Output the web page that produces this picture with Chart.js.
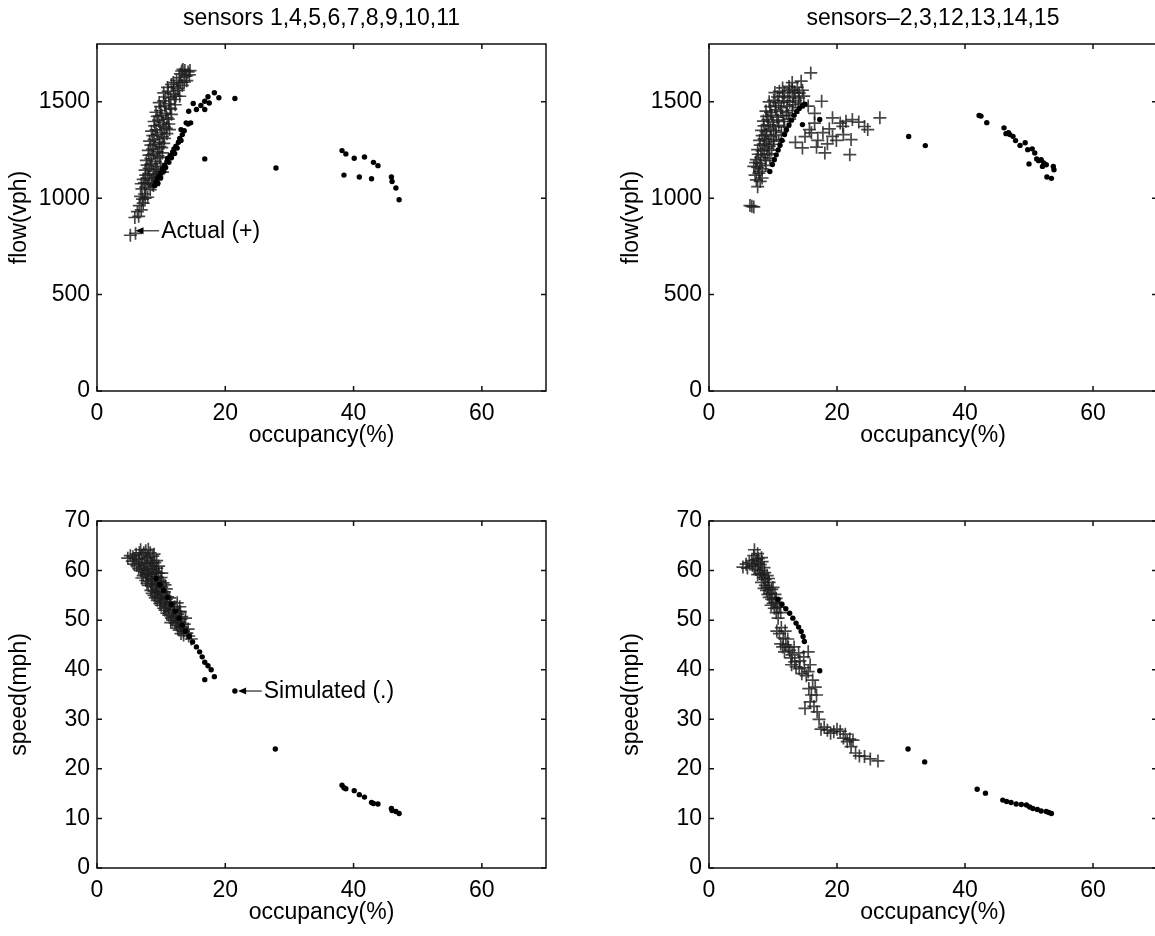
<!DOCTYPE html>
<html>
<head>
<meta charset="utf-8">
<title>flow and speed against occupancy</title>
<script src="https://cdn.jsdelivr.net/npm/chart.js@4.4.1/dist/chart.umd.min.js"></script>
<style>
html, body { margin: 0; padding: 0; background: #fff; overflow: hidden; }
#fig { position: relative; width: 1155px; height: 936px; overflow: hidden; background: #fff; }
#fig canvas { position: absolute; }
</style>
</head>
<body>
<div id="fig">
	<canvas id="flow-a" width="580" height="460" style="left:0;top:0"></canvas>
	<canvas id="flow-b" width="580" height="460" style="left:612px;top:0"></canvas>
	<canvas id="speed-a" width="580" height="476" style="left:0;top:460px"></canvas>
	<canvas id="speed-b" width="580" height="476" style="left:612px;top:460px"></canvas>
</div>
<script>

var groupTitles = ["sensors 1,4,5,6,7,8,9,10,11", "sensors\u20132,3,12,13,14,15"];

var occTicks = [0, 20, 40, 60];
var flowTicks = [0, 500, 1000, 1500];
var speedTicks = [0, 10, 20, 30, 40, 50, 60, 70];

// [occupancy %, flow vph] - sensors 1,4,5,...,11
var flowActualA = [
	[5.2,808],[6.0,818],[5.9,900],[6.5,906],[6.6,962],[7.1,995],[6.3,930],[6.9,940],[7.2,975],[7.5,1000],
	[6.8,1010],[7.4,1022],[7.9,1005],[7.0,1048],[7.6,1058],[8.3,1044],[8.8,1066],
	[6.9,1075],[7.4,1080],[8.1,1078],[8.6,1072],
	[7.2,1098],[7.9,1104],[8.5,1092],[9.2,1110],[7.6,1120],[8.2,1128],[8.9,1118],
	[7.5,1146],[8.1,1155],[8.8,1140],[9.6,1128],[10.2,1135],[9.4,1150],
	[7.8,1172],[8.5,1178],[9.2,1165],[9.9,1180],
	[7.7,1196],[8.4,1205],[9.1,1190],[9.8,1212],[8.1,1224],[8.8,1230],[9.5,1220],[10.2,1235],
	[8.0,1248],[8.7,1255],[9.4,1240],[10.1,1262],[8.4,1275],[9.1,1280],[9.8,1268],[10.4,1285],
	[8.2,1296],[8.9,1305],[9.7,1290],[10.5,1310],[8.7,1325],[9.4,1330],[10.2,1320],[10.9,1335],
	[8.5,1348],[9.2,1355],[10.0,1340],[10.8,1362],[11.3,1356],[9.0,1375],[9.8,1380],[10.5,1370],[11.2,1385],
	[8.9,1398],[9.6,1405],[10.3,1392],[11.1,1410],[9.4,1425],[10.1,1430],[10.9,1418],[11.6,1435],
	[9.2,1446],[9.9,1455],[10.7,1440],[11.5,1462],[9.9,1475],[10.6,1480],[11.4,1468],[12.2,1485],
	[9.7,1496],[10.4,1505],[11.2,1490],[12.1,1512],[10.7,1525],[11.5,1520],[12.3,1530],
	[10.4,1546],[11.1,1555],[11.9,1540],[12.7,1560],[12.9,1529],[11.0,1575],
	[11.6,1590],[12.0,1578],[12.6,1570],[12.4,1612],[13.0,1600],[13.6,1602],[11.9,1600],[12.8,1625],[13.3,1585],[14.0,1610],
	[13.0,1645],[13.4,1668],[13.9,1633],[14.2,1655],[14.4,1640],[13.7,1662],[13.2,1660],[14.5,1662]
];
var flowSimA = [
	[9.0,1065],[9.2,1085],[9.5,1078],[9.4,1102],[9.7,1115],[9.9,1104],[10.0,1132],[10.2,1150],[10.4,1140],
	[10.5,1170],[10.7,1160],[10.9,1190],[11.0,1206],[11.2,1186],[11.4,1222],[11.6,1210],[11.8,1240],
	[12.0,1256],[12.1,1232],[12.3,1270],[12.5,1260],[12.7,1290],[12.9,1310],[13.1,1300],[13.1,1356],
	[13.3,1330],[13.6,1350],[13.9,1391],[14.2,1385],[14.6,1391],[14.3,1451],
	[15.0,1491],[15.5,1460],[16.2,1481],[16.8,1503],[16.8,1460],[17.5,1494],[17.3,1526],
	[18.3,1547],[19.0,1521],[21.5,1517],
	[16.8,1204],[27.9,1157],
	[38.2,1247],[38.8,1230],[40.1,1207],[41.7,1214],[43.1,1186],[43.8,1169],
	[38.5,1120],[40.9,1110],[42.8,1101],[45.9,1110],[46.0,1087],[46.6,1053],[47.1,992]
];

// [occupancy %, flow vph] - sensors 2,3,12,...,15
var flowActualB = [
	[6.4,962],[7.0,955],[6.7,958],[8.0,1087],[7.6,1060],[8.3,1105],[7.4,1095],[7.2,1120],[7.8,1130],[7.9,1140],
	[7.0,1165],[7.6,1160],[8.3,1152],[8.9,1170],[7.3,1185],[8.0,1180],
	[7.4,1200],[8.1,1212],[8.8,1195],[9.5,1208],[8.6,1225],[7.7,1228],[9.2,1230],
	[7.6,1252],[8.3,1246],[9.0,1260],[9.8,1250],[8.0,1275],[8.7,1282],[9.4,1270],[10.1,1280],
	[7.9,1300],[8.6,1308],[9.3,1294],[10.1,1305],[10.9,1296],[8.3,1325],[9.0,1330],[9.7,1320],[10.5,1328],
	[8.2,1352],[8.9,1345],[9.6,1358],[10.4,1350],[11.3,1342],[8.6,1375],[9.3,1380],[10.1,1370],[10.9,1378],[11.8,1370],
	[8.5,1400],[9.2,1408],[10.0,1395],[10.8,1405],[11.7,1398],[12.6,1410],
	[9.0,1425],[9.8,1430],[10.6,1420],[11.5,1428],[12.4,1430],
	[8.9,1452],[9.6,1445],[10.4,1458],[11.2,1450],[12.1,1444],[13.0,1455],
	[9.6,1475],[10.4,1480],[11.3,1470],[12.2,1478],[13.1,1485],[14.0,1470],
	[9.4,1500],[10.1,1508],[10.9,1495],[11.7,1505],[12.6,1498],[13.5,1506],[14.3,1494],
	[10.7,1525],[11.5,1530],[12.3,1522],[13.2,1528],[14.0,1520],
	[10.3,1548],[11.0,1555],[11.8,1546],[12.6,1558],[13.4,1550],[14.1,1545],
	[11.5,1572],[13.0,1565],[14.6,1560],[13.0,1600],
	[12.5,1580],[13.8,1575],[14.4,1607],[15.9,1650],
	[14.8,1530],[15.5,1478],[16.5,1440],[17.6,1503],[15.0,1320],[13.5,1290],
	[14.6,1261],[15.7,1356],[16.0,1339],[17.0,1300],[16.5,1390],[18.1,1235],[18.5,1282],[16.8,1265],
	[17.8,1340],[18.8,1360],[19.9,1300],[21.0,1330],[23.4,1395],
	[19.3,1321],[19.3,1417],[20.5,1390],[20.9,1373],[21.4,1399],[22.4,1408],[22.2,1304],
	[22.0,1226],[24.3,1372],[24.8,1356],[26.7,1417]
];
var flowSimB = [
	[9.5,1139],[9.9,1175],[10.2,1200],[10.5,1225],[10.8,1250],[11.1,1275],[11.4,1300],
	[11.8,1330],[12.1,1355],[12.5,1380],[12.9,1405],[13.3,1430],[13.7,1450],[14.1,1466],
	[14.6,1480],[15.0,1488],[14.6,1382],[17.3,1408],
	[31.2,1320],[33.8,1273],
	[42.2,1429],[42.5,1426],[43.4,1392],[46.1,1365],[46.4,1335],[47.0,1330],[47.5,1321],[47.9,1299],
	[48.6,1274],[49.4,1288],[49.8,1252],[50.5,1256],[50.9,1235],[50.0,1178],[51.2,1204],
	[51.9,1200],[52.3,1183],[52.7,1174],[52.1,1165],[53.8,1165],[53.9,1148],[52.8,1110],[53.5,1103],
	[46.8,1340],[51.5,1195]
];

// [occupancy %, speed mph]
var speedActualA = [
	[4.8,62.5],[5.6,62.8],[6.8,64.2],[7.6,64.0],[8.3,63.6],[5.9,62.4],[6.6,63.6],[7.3,63.6],[8.0,64.3],[8.9,63.3],
	[5.2,63.0],[6.1,63.3],[7.0,63.1],[7.9,62.7],[8.7,62.9],
	[5.5,61.9],[6.5,62.2],[7.4,61.7],[8.3,62.0],[9.0,61.6],[5.8,61.3],[6.7,61.5],[7.7,62.4],[8.5,61.5],[9.3,62.0],
	[6.2,61.0],[7.0,60.7],[7.8,61.2],[8.6,60.9],[9.3,60.5],[6.5,60.4],[7.3,60.3],[8.0,59.4],[8.8,60.3],[9.6,60.9],
	[6.8,60.0],[7.5,59.7],[8.2,60.2],[9.0,59.9],[9.6,59.5],
	[7.2,59.0],[7.9,58.8],[8.6,59.2],[9.3,58.7],[10.0,58.6],[7.0,58.5],[7.7,59.3],[8.5,58.4],[9.2,59.6],[10.1,59.5],
	[7.6,58.0],[8.3,57.8],[9.0,58.2],[9.7,57.7],[10.3,57.5],[7.8,57.4],[8.5,57.3],[9.3,56.5],[9.9,57.9],[10.6,57.1],
	[8.0,57.0],[8.7,56.8],[9.4,57.2],[10.1,56.7],
	[8.4,56.0],[9.1,55.8],[9.8,56.2],[10.5,55.7],[8.6,55.4],[9.4,55.5],[10.1,55.6],[10.8,56.3],
	[8.9,55.0],[9.6,54.8],[10.3,55.2],[11.0,54.7],[9.1,54.5],[9.9,54.4],[10.6,53.5],[11.3,54.5],
	[9.4,54.0],[10.1,53.8],[10.8,54.2],[11.5,53.7],[9.8,53.4],[10.4,52.4],[11.1,52.5],[11.8,52.0],[12.5,53.5],
	[10.0,53.0],[10.7,52.8],[11.4,53.2],[12.1,52.7],[12.9,52.7],
	[10.6,52.0],[11.3,51.8],[12.0,52.2],[12.8,51.7],[10.9,51.4],[11.6,50.4],[12.3,50.6],[13.0,51.7],
	[11.2,51.0],[11.9,50.8],[12.6,51.2],[13.2,50.7],[11.5,49.5],[12.2,49.4],[12.9,49.6],[13.8,50.4],
	[11.8,50.0],[12.5,49.8],[13.1,50.2],[12.4,49.0],[13.0,48.8],[13.6,49.2],
	[12.8,48.0],[13.5,47.8],[14.2,48.2],[12.6,48.4],[13.3,48.5],[14.0,47.4],[13.1,47.3],
	[13.5,47.0],[14.3,46.8],[14.7,46.2]
];
var speedSimA = [
	[9.2,58.4],[9.8,57.2],[10.4,56.0],[11.0,54.6],[11.6,53.2],[12.2,51.8],[12.8,50.4],[13.3,49.0],
	[13.8,47.8],[14.4,46.7],[14.9,45.6],[15.5,44.6],[16.0,43.6],[16.4,42.6],[16.8,41.5],[17.3,40.8],
	[17.8,40.0],[16.8,38.0],[18.3,38.6],[21.5,35.7],[27.8,24.0],
	[38.2,16.7],[38.5,16.2],[38.8,16.0],[40.1,15.6],[40.9,14.8],[41.7,14.3],[42.8,13.2],[43.1,13.0],
	[43.8,12.9],[45.9,12.0],[46.0,11.6],[46.6,11.4],[47.1,11.0]
];

var speedActualB = [
	[5.3,60.7],[6.0,60.5],[6.7,62.0],[7.1,64.2],[7.6,63.4],[8.2,62.6],[6.8,61.0],[7.4,62.2],
	[5.8,61.3],[6.3,61.6],[7.0,63.0],[7.7,62.4],[7.1,60.8],[7.7,61.4],[8.3,61.8],
	[8.0,61.2],[8.6,60.6],[7.3,60.2],[7.9,59.4],[8.5,58.6],[9.1,59.0],[8.2,57.6],[8.8,57.0],
	[8.1,60.0],[8.7,59.6],[7.6,59.2],[8.3,59.2],[8.8,58.2],[9.3,58.4],[8.6,56.4],[9.2,56.6],[9.8,56.2],
	[9.4,57.6],[9.0,56.0],[9.6,55.4],[10.0,56.6],[9.4,54.6],[10.0,53.4],[10.5,54.4],[10.2,52.4],
	[9.2,55.2],[9.8,54.2],[10.3,55.2],[9.7,53.0],[10.4,53.6],[10.7,52.6],[11.2,51.5],
	[10.5,51.5],[11.0,52.6],[10.8,50.4],
	[10.6,47.8],[11.0,47.3],[11.6,46.4],[11.2,45.2],[12.0,45.0],[12.6,43.9],[11.8,43.6],[12.8,42.4],
	[11.3,48.5],[11.9,47.8],[11.5,44.6],[12.3,46.2],[12.4,44.5],[13.0,43.0],[13.4,41.6],[12.9,41.0],
	[13.3,44.6],[13.6,40.6],[14.2,41.8],[15.5,43.6],[14.8,42.6],[14.5,39.2],[15.2,38.8],[16.2,37.9],
	[14.0,43.4],[14.1,40.2],[14.9,40.4],[15.8,41.0],[15.5,39.6],[16.6,36.5],
	[15.6,36.2],[16.0,34.9],[16.8,34.9],[15.0,32.2],[16.4,32.6],[17.2,30.0],[17.5,28.0],[18.5,27.8],
	[15.8,33.5],[16.9,31.5],[18.0,28.4],[19.0,27.2],[20.0,28.0],[21.0,26.2],
	[19.5,27.5],[20.5,27.6],[21.3,27.0],[21.6,25.5],[22.0,26.0],[22.2,24.5],[22.5,25.8],[24.3,22.5],
	[22.9,23.2],[23.5,22.6],[25.2,22.0],[26.4,21.6]
];
var speedSimB = [
	[10.8,54.2],[11.4,53.2],[12.0,52.3],[12.6,51.4],[13.1,50.4],[13.6,49.4],[14.0,48.6],[14.4,47.7],
	[14.7,46.7],[14.9,45.7],[17.3,39.8],[31.1,24.0],[33.7,21.4],[41.9,15.9],[43.2,15.1],
	[45.9,13.7],[46.5,13.4],[47.2,13.2],[48.0,12.9],[48.8,12.8],[49.6,12.7],[50.1,12.3],[50.6,12.0],
	[51.3,11.8],[51.9,11.5],[52.7,11.4],[53.1,11.2],[53.5,11.0]
];

Chart.defaults.font.family = "'Liberation Sans', Arial, Helvetica, sans-serif";
Chart.defaults.color = '#000';

var FONT = { size: 23 };

function toPoints(pairs) {
	return pairs.map(function(p) { return { x: p[0], y: p[1] }; });
}

// box with inward ticks on all four sides, plus the panel title and text note
var boxFrame = {
	id: 'boxFrame',
	afterDraw: function(chart, args, opts) {
		var ctx = chart.ctx, a = chart.chartArea;
		var xs = chart.scales.x, ys = chart.scales.y;
		ctx.save();
		ctx.strokeStyle = '#111';
		ctx.lineWidth = 1.5;
		ctx.strokeRect(a.left, a.top, a.right - a.left, a.bottom - a.top);
		ctx.beginPath();
		xs.ticks.forEach(function(t) {
			var px = xs.getPixelForValue(t.value);
			ctx.moveTo(px, a.bottom); ctx.lineTo(px, a.bottom - 5);
			ctx.moveTo(px, a.top); ctx.lineTo(px, a.top + 5);
		});
		ys.ticks.forEach(function(t) {
			var py = ys.getPixelForValue(t.value);
			ctx.moveTo(a.left, py); ctx.lineTo(a.left + 5, py);
			ctx.moveTo(a.right, py); ctx.lineTo(a.right - 5, py);
		});
		ctx.stroke();

		ctx.fillStyle = '#000';
		ctx.font = "23px 'Liberation Sans', Arial, sans-serif";
		if (opts.title) {
			ctx.textAlign = 'center';
			ctx.textBaseline = 'middle';
			ctx.fillText(opts.title, (a.left + a.right) / 2, a.top - 25);
		}
		if (opts.note) {
			var n = opts.note;
			var x0 = xs.getPixelForValue(n.x), y0 = ys.getPixelForValue(n.y);
			var x1 = xs.getPixelForValue(n.textX);
			ctx.lineWidth = 1.1;
			ctx.beginPath();
			ctx.moveTo(x0 + 2, y0); ctx.lineTo(x1 - 2, y0);
			ctx.stroke();
			ctx.beginPath();
			ctx.moveTo(x0, y0);
			ctx.lineTo(x0 + 8, y0 - 3.5);
			ctx.lineTo(x0 + 8, y0 + 3.5);
			ctx.closePath();
			ctx.fill();
			ctx.textAlign = 'left';
			ctx.textBaseline = 'middle';
			ctx.fillText(n.text, x1, y0 + 1);
		}
		ctx.restore();
	}
};

function plainNumber(value) {
	return String(value);
}

function makePanel(id, cfg) {
	var ctx = document.getElementById(id);
	return new Chart(ctx, {
		type: 'scatter',
		data: {
			datasets: [
				{
					label: 'Simulated (.)',
					data: toPoints(cfg.sim),
					pointStyle: 'circle',
					pointRadius: 2.7,
					pointBorderWidth: 0,
					backgroundColor: '#000',
					borderColor: '#000'
				},
				{
					label: 'Actual (+)',
					data: toPoints(cfg.actual),
					pointStyle: 'cross',
					pointRadius: 6.5,
					pointBorderWidth: 1.7,
					backgroundColor: 'rgba(30,30,30,0.82)',
					borderColor: 'rgba(30,30,30,0.82)'
				}
			]
		},
		options: {
			responsive: false,
			animation: false,
			events: [],
			layout: { padding: { top: cfg.top, right: cfg.right, left: 0, bottom: 0 } },
			scales: {
				x: {
					type: 'linear',
					min: 0,
					max: 70,
					grid: { display: false, drawTicks: false },
					border: { display: false },
					afterBuildTicks: function(axis) {
						axis.ticks = occTicks.map(function(v) { return { value: v }; });
					},
					afterFit: function(axis) { axis.height = cfg.xHeight; },
					ticks: { font: FONT, padding: 9, maxRotation: 0, callback: plainNumber },
					title: { display: true, text: 'occupancy(%)', font: FONT, padding: { top: 0, bottom: cfg.xTitlePad } }
				},
				y: {
					type: 'linear',
					min: 0,
					max: cfg.yMax,
					grid: { display: false, drawTicks: false },
					border: { display: false },
					afterBuildTicks: function(axis) {
						axis.ticks = cfg.yTicks.map(function(v) { return { value: v }; });
					},
					afterFit: function(axis) { axis.width = 97; },
					ticks: { font: FONT, padding: 7, callback: plainNumber },
					title: { display: true, text: cfg.yLabel, font: FONT, padding: { top: 6, bottom: 0 } }
				}
			},
			plugins: {
				legend: { display: false },
				tooltip: { enabled: false },
				boxFrame: { title: cfg.title, note: cfg.note }
			}
		},
		plugins: [boxFrame]
	});
}

makePanel('flow-a', {
	actual: flowActualA, sim: flowSimA,
	yMax: 1800, yTicks: flowTicks, yLabel: 'flow(vph)',
	top: 44, right: 34, xHeight: 69, xTitlePad: 11,
	title: groupTitles[0],
	note: { x: 6.0, y: 831, textX: 10.0, text: 'Actual (+)' }
});
makePanel('flow-b', {
	actual: flowActualB, sim: flowSimB,
	yMax: 1800, yTicks: flowTicks, yLabel: 'flow(vph)',
	top: 44, right: 35, xHeight: 69, xTitlePad: 11,
	title: groupTitles[1]
});
makePanel('speed-a', {
	actual: speedActualA, sim: speedSimA,
	yMax: 70, yTicks: speedTicks, yLabel: 'speed(mph)',
	top: 61, right: 34, xHeight: 68, xTitlePad: 10,
	note: { x: 22.0, y: 35.7, textX: 26.0, text: 'Simulated (.)' }
});
makePanel('speed-b', {
	actual: speedActualB, sim: speedSimB,
	yMax: 70, yTicks: speedTicks, yLabel: 'speed(mph)',
	top: 61, right: 35, xHeight: 68, xTitlePad: 10
});

</script>
</body>
</html>
